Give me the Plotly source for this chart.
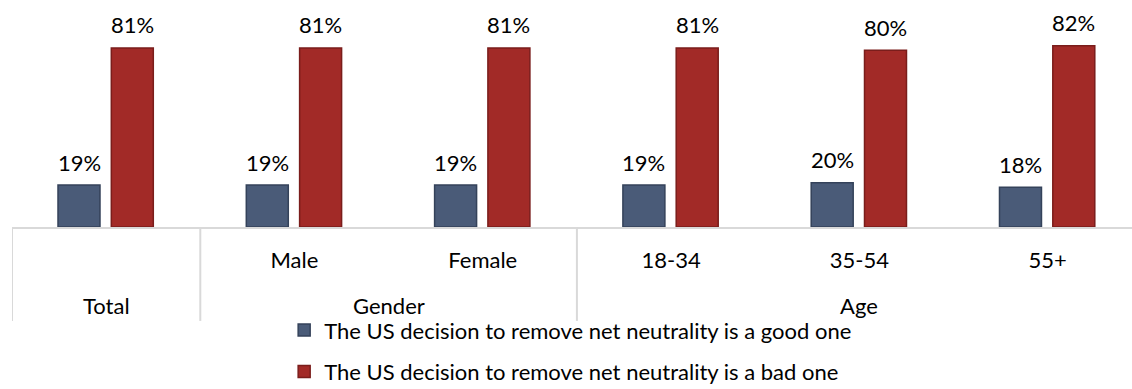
import plotly.graph_objects as go

# Survey results: share who think removing net neutrality is good / bad
categories = ["Total", "Male", "Female", "18-34", "35-54", "55+"]
sub_labels = ["", "Male", "Female", "18-34", "35-54", "55+"]
groups = ["Total", "Gender", "Age"]
group_spans = [(0, 0), (1, 2), (3, 5)]  # first/last category index per group
good_one = [19, 19, 19, 19, 20, 18]
bad_one = [81, 81, 81, 81, 80, 82]
series_names = [
    "The US decision to remove net neutrality is a good one",
    "The US decision to remove net neutrality is a bad one",
]

FONT = "Lato"
GRID = "#d9d9d9"
BAR_W = 0.223
OFFSETS = [-0.2557, 0.0274]
FILLS = ["#4a5b78", "#a22a27"]
EDGES = ["#34425a", "#7a1d1b"]

fig = go.Figure()
for name, vals, off, fill, edge in zip(series_names, [good_one, bad_one], OFFSETS, FILLS, EDGES):
    fig.add_trace(go.Bar(
        x=categories, y=vals, name=name, width=BAR_W, offset=off,
        marker=dict(color=fill, line=dict(color=edge, width=1.5)),
        legendgroup=name,
    ))
    # value labels above each bar
    for i, v in enumerate(vals):
        fig.add_annotation(
            x=i + off + BAR_W / 2, y=v, xref="x", yref="y",
            text=f"{v}%", showarrow=False, yanchor="middle", yshift=23,
            font=dict(family=FONT, size=22, color="#000"),
        )

# group labels and dividers of the two-level category axis
for g, (a, b) in zip(groups, group_spans):
    fig.add_annotation(
        x=(a + b) / 2, y=-0.353, xref="x", yref="paper", text=g,
        showarrow=False, yanchor="middle",
        font=dict(family=FONT, size=22, color="#000"),
    )
for a, b in group_spans:
    fig.add_shape(type="line", xref="x", yref="paper", x0=a - 0.5, x1=a - 0.5,
                  y0=0, y1=-0.425, line=dict(color=GRID, width=2))

fig.update_layout(
    width=1132, height=389, barmode="overlay",
    margin=dict(l=12, r=0, t=6, b=162, autoexpand=False),
    paper_bgcolor="white", plot_bgcolor="white",
    font=dict(family=FONT, size=22, color="#000"),
    xaxis=dict(
        type="category", range=[-0.5, 5.448], tickvals=categories, ticktext=sub_labels,
        showline=True, linecolor=GRID, linewidth=2, ticks="", showgrid=False,
        ticklabelstandoff=13, tickfont=dict(family=FONT, size=22, color="#000"),
        automargin=False,
    ),
    yaxis=dict(range=[0, 100], visible=False, showgrid=False, zeroline=False),
    legend=dict(
        x=0.243, xanchor="left", y=-0.372, yanchor="top", orientation="v",
        font=dict(family=FONT, size=22, color="#000"), tracegroupgap=10,
        bgcolor="rgba(0,0,0,0)",
    ),
    showlegend=True,
)

fig.write_html("out.html")
